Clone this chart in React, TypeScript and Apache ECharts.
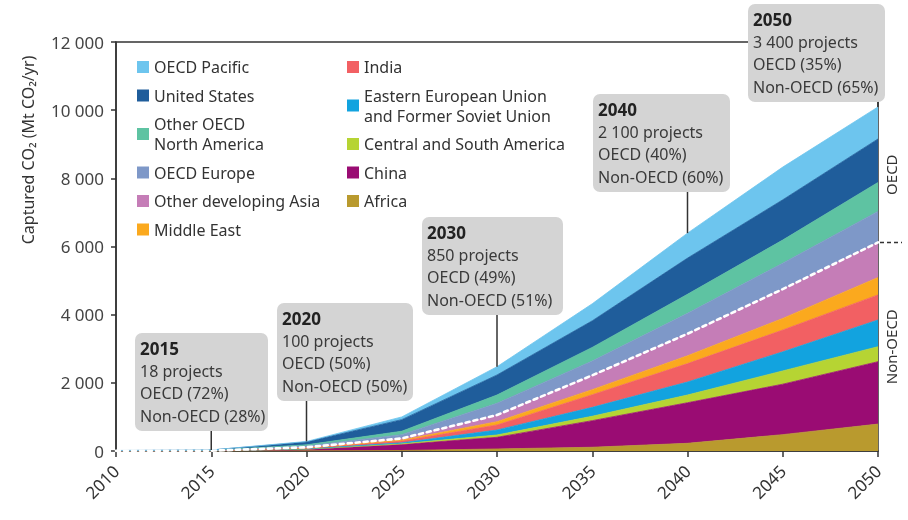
import React, { useEffect, useRef } from "react";
import * as echarts from "echarts";

// ---------- data ----------
const years = [2010, 2015, 2020, 2025, 2030, 2035, 2040, 2045, 2050];

// stacked bottom -> top (Mt CO2 / yr)
const africa = [0, 0, 5, 15, 60, 110, 226, 480, 790];
const china = [3, 4, 40, 175, 342, 780, 1190, 1480, 1830];
const centralSouthAmerica = [0, 1, 8, 20, 67, 130, 227, 390, 440];
const easternEuropeFsu = [0, 1, 12, 30, 147, 260, 381, 560, 785];
const india = [0, 1, 15, 50, 147, 370, 540, 640, 735];
const middleEast = [0, 1, 12, 30, 97, 150, 230, 340, 510];
const otherDevelopingAsia = [1, 1, 18, 50, 196, 420, 645, 860, 1030];
const oecdEurope = [2, 4, 35, 110, 344, 420, 600, 760, 910];
const otherOecdNorthAmerica = [3, 6, 35, 100, 243, 400, 560, 680, 850];
const unitedStates = [5, 10, 85, 340, 587, 780, 1060, 1180, 1275];
const oecdPacific = [2, 1, 15, 80, 243, 500, 733, 960, 940];

const yTicks = [0, 2000, 4000, 6000, 8000, 10000, 12000];

const calloutYears = [2015, 2020, 2030, 2040, 2050];
const calloutProjects = ["18 projects", "100 projects", "850 projects", "2 100 projects", "3 400 projects"];
const calloutOecd = [72, 50, 49, 40, 35];
const calloutNonOecd = [28, 50, 51, 60, 65];

// ---------- styling ----------
const FONT = "'Noto Sans', 'DejaVu Sans', sans-serif";
const TXT = "#333333";

const seriesDefs = [
  { name: "Africa", data: africa, color: "#B99A2E", group: "non" },
  { name: "China", data: china, color: "#9A0C73", group: "non" },
  { name: "Central and South America", data: centralSouthAmerica, color: "#B6D433", group: "non" },
  { name: "Eastern European Union and Former Soviet Union", data: easternEuropeFsu, color: "#12A3DF", group: "non" },
  { name: "India", data: india, color: "#F26063", group: "non" },
  { name: "Middle East", data: middleEast, color: "#FBA91E", group: "non" },
  { name: "Other developing Asia", data: otherDevelopingAsia, color: "#C57DB7", group: "non" },
  { name: "OECD Europe", data: oecdEurope, color: "#7E98C8", group: "oecd" },
  { name: "Other OECD North America", data: otherOecdNorthAmerica, color: "#5EC3A2", group: "oecd" },
  { name: "United States", data: unitedStates, color: "#1F5D9B", group: "oecd" },
  { name: "OECD Pacific", data: oecdPacific, color: "#6DC5EE", group: "oecd" },
];

const legendCol1 = ["OECD Pacific", "United States", "Other OECD North America", "OECD Europe", "Other developing Asia", "Middle East"];
const legendCol2 = ["India", "Eastern European Union and Former Soviet Union", "Central and South America", "China", "Africa"];

const legendLabel = (n: string) => {
  if (n === "Other OECD North America") return "Other OECD\nNorth America";
  if (n === "Eastern European Union and Former Soviet Union") return "Eastern European Union\nand Former Soviet Union";
  return n;
};

// box layout (pixels) for the callouts
const boxLayout = [
  { x: 135, y: 333, w: 133 },
  { x: 277, y: 303, w: 136 },
  { x: 422, y: 217, w: 141 },
  { x: 593, y: 94, w: 137 },
  { x: 748, y: 4, w: 137 },
];
const BOX_H = 98;

const nonOecdTotal = years.map((_, i) =>
  seriesDefs.filter((s) => s.group === "non").reduce((a, s) => a + s.data[i], 0)
);
const grandTotal = years.map((_, i) => seriesDefs.reduce((a, s) => a + s.data[i], 0));

export default function App() {
  const ref = useRef<HTMLDivElement>(null);

  useEffect(() => {
    if (!ref.current) return;
    const chart = echarts.init(ref.current, undefined, { renderer: "svg" });

    const series: any[] = seriesDefs.map((s) => ({
      name: s.name,
      type: "line",
      stack: "total",
      data: s.data,
      showSymbol: false,
      symbol: "none",
      lineStyle: { width: 0.8, color: s.color },
      itemStyle: { color: s.color },
      areaStyle: { color: s.color, opacity: 1 },
      emphasis: { disabled: true },
      z: 2,
    }));
    series.push({
      name: "Non-OECD total",
      type: "line",
      data: nonOecdTotal,
      showSymbol: false,
      symbol: "none",
      lineStyle: { width: 2.6, color: "#ffffff", type: [4, 4], cap: "round" },
      z: 5,
      silent: true,
    });

    const legendBase = {
      orient: "vertical",
      itemWidth: 12,
      itemHeight: 12,
      itemGap: 8.5,
      icon: "rect",
      top: 57,
      padding: 0,
      formatter: legendLabel,
      textStyle: { fontSize: 16, color: TXT, lineHeight: 20, fontFamily: FONT },
      selectedMode: false,
    };

    chart.setOption({
      animation: false,
      textStyle: { fontFamily: FONT },
      grid: {
        left: 116,
        right: 30,
        top: 42,
        bottom: 69,
        show: true,
        borderColor: "#333",
        borderWidth: 1.5,
        backgroundColor: "transparent",
      },
      legend: [
        { ...legendBase, left: 137, data: legendCol1 },
        { ...legendBase, left: 347, data: legendCol2 },
      ],
      xAxis: {
        type: "category",
        data: years.map(String),
        boundaryGap: false,
        axisLine: { show: true, lineStyle: { color: "#333", width: 1.5 } },
        axisTick: { show: true, length: 6, interval: 0, lineStyle: { color: "#333", width: 1.5 } },
        axisLabel: { rotate: 45, interval: 0, fontSize: 17, color: "#333", margin: 17, fontFamily: FONT },
        splitLine: { show: false },
      },
      yAxis: {
        type: "value",
        min: yTicks[0],
        max: yTicks[yTicks.length - 1],
        interval: yTicks[1] - yTicks[0],
        axisLine: { show: true, lineStyle: { color: "#333", width: 1.5 } },
        axisTick: { show: true, length: 5, lineStyle: { color: "#333", width: 1.5 } },
        axisLabel: {
          fontSize: 17,
          color: "#444",
          margin: 12,
          fontFamily: FONT,
          formatter: (v: number) => (v >= 1000 ? `${Math.floor(v / 1000)} ${String(v % 1000).padStart(3, "0")}` : String(v)),
        },
        splitLine: { show: false },
      },
      series,
    });

    const px = (i: number, y: number) => chart.convertToPixel({ gridIndex: 0 }, [i, y]) as number[];

    const graphics: any[] = [];
    // y axis title
    graphics.push({
      type: "text",
      x: 28,
      y: 150,
      rotation: Math.PI / 2,
      z: 100,
      style: { text: "Captured CO₂ (Mt CO₂/yr)", font: `16px ${FONT}`, fill: TXT, align: "center", verticalAlign: "middle" },
    });

    calloutYears.forEach((yr, k) => {
      const b = boxLayout[k];
      const idx = years.indexOf(yr);
      const [lx, ly] = px(idx, grandTotal[idx]);
      graphics.push({
        type: "line",
        z: 99,
        shape: { x1: lx, y1: b.y + BOX_H, x2: lx, y2: ly },
        style: { stroke: "#333", lineWidth: 1.5 },
      });
      graphics.push({
        type: "rect",
        z: 100,
        shape: { x: b.x, y: b.y, width: b.w, height: BOX_H, r: 7 },
        style: { fill: "#D4D4D4" },
      });
      const lines = [String(yr), calloutProjects[k], `OECD (${calloutOecd[k]}%)`, `Non-OECD (${calloutNonOecd[k]}%)`];
      lines.forEach((t, j) => {
        graphics.push({
          type: "text",
          z: 101,
          x: b.x + 5,
          y: b.y + 15 + j * 22.5,
          style: {
            text: t,
            font: j === 0 ? `bold 17px ${FONT}` : `16px ${FONT}`,
            fill: j === 0 ? "#222" : "#3a3a3a",
            align: "left",
            verticalAlign: "middle",
          },
        });
      });
    });

    // OECD / Non-OECD split marker at right
    const lastIdx = years.length - 1;
    const [rx, splitY] = px(lastIdx, nonOecdTotal[lastIdx]);
    const [, topY] = px(lastIdx, grandTotal[lastIdx]);
    const [, baseY] = px(lastIdx, 0);
    graphics.push({
      type: "line",
      z: 100,
      shape: { x1: rx + 2, y1: splitY, x2: rx + 24, y2: splitY },
      style: { stroke: "#333", lineWidth: 1.5, lineDash: [4, 3] },
    });
    graphics.push({
      type: "text",
      z: 100,
      x: rx + 13,
      y: (topY + splitY) / 2,
      rotation: Math.PI / 2,
      style: { text: "OECD", font: `15px ${FONT}`, fill: TXT, align: "center", verticalAlign: "middle" },
    });
    graphics.push({
      type: "text",
      z: 100,
      x: rx + 13,
      y: (splitY + baseY) / 2,
      rotation: Math.PI / 2,
      style: { text: "Non-OECD", font: `15px ${FONT}`, fill: TXT, align: "center", verticalAlign: "middle" },
    });

    chart.setOption({ graphic: graphics });

    return () => chart.dispose();
  }, []);

  return <div ref={ref} style={{ position: "fixed", left: 0, top: 0, width: 908, height: 520 }} />;
}
